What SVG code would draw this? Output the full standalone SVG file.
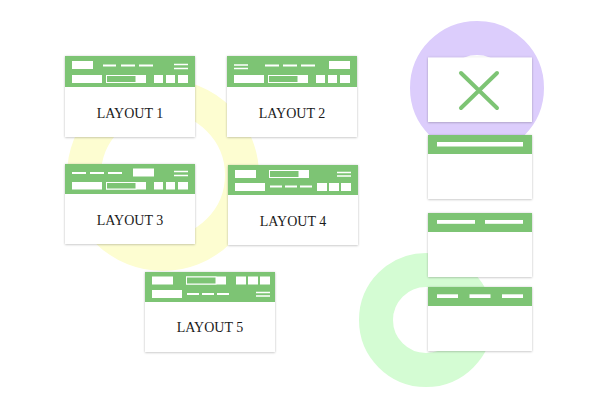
<svg xmlns="http://www.w3.org/2000/svg" width="600" height="400" viewBox="0 0 600 400">
<defs>
<filter id="sh" x="-10%" y="-10%" width="120%" height="125%">
<feDropShadow dx="0" dy="0.5" stdDeviation="1.3" flood-color="#000" flood-opacity="0.28"/>
</filter>
</defs>
<style>
.card{fill:#fff;filter:url(#sh)}
.hdr{fill:#7dc474}
.w{fill:#fff}
.inp{fill:#7dc474;stroke:#fff;stroke-width:1}
.ln{stroke:#fff;stroke-width:2}
.hb{stroke:#fff;stroke-width:1.3}
.lbl{font-family:"Liberation Serif","DejaVu Serif",serif;font-size:14px;fill:#1a1a1a;text-anchor:middle}
.ring{fill:none;stroke-width:34}
</style>
<rect width="600" height="400" fill="#fff"/>
<g id="decor">
<circle class="ring" cx="163" cy="175" r="79" stroke="#fdfdd1"/>
<circle class="ring" cx="426" cy="320" r="50" stroke="#d4fcd3"/>
<circle class="ring" cx="477" cy="88" r="50" stroke="#dccdfc"/>
</g>
<g id="layout1">
<rect class="card" x="65" y="56" width="130" height="81"/>
<rect class="hdr" x="65" y="56" width="130" height="31"/>
<rect class="w" x="72" y="61" width="21" height="8"/>
<path class="ln" d="M103 65.5h13M121 65.5h14M139 65.5h14"/>
<path class="hb" d="M174 64.5h14M174 68.5h14"/>
<rect class="w" x="72" y="75" width="30" height="8"/>
<rect class="w" x="106" y="75" width="40" height="8"/>
<rect class="inp" x="106.5" y="75.5" width="29.5" height="7"/>
<rect class="w" x="154" y="75" width="9" height="8"/>
<rect class="w" x="166" y="75" width="9" height="8"/>
<rect class="w" x="178" y="75" width="10" height="8"/>
<text class="lbl" x="130" y="117.5">LAYOUT 1</text>
</g>
<g id="layout2">
<rect class="card" x="227" y="56" width="130" height="81"/>
<rect class="hdr" x="227" y="56" width="130" height="31"/>
<path class="hb" d="M234 65h14M234 68.5h14"/>
<path class="ln" d="M265 65.5h14M283 65.5h14M301 65.5h14"/>
<rect class="w" x="329" y="61" width="21" height="8"/>
<rect class="w" x="234" y="75" width="30" height="8"/>
<rect class="w" x="268" y="75" width="40" height="8"/>
<rect class="inp" x="268.5" y="75.5" width="29.5" height="7"/>
<rect class="w" x="316" y="75" width="9" height="8"/>
<rect class="w" x="328" y="75" width="9" height="8"/>
<rect class="w" x="340" y="75" width="10" height="8"/>
<text class="lbl" x="292" y="117.5">LAYOUT 2</text>
</g>
<g id="layout3">
<rect class="card" x="65" y="164" width="130" height="80"/>
<rect class="hdr" x="65" y="164" width="130" height="30"/>
<path class="ln" d="M72 173h14M90 173h14M108 173h14"/>
<rect class="w" x="133" y="168.5" width="21" height="8"/>
<path class="hb" d="M174 171.5h14M174 175.5h14"/>
<rect class="w" x="72" y="182" width="30" height="7.5"/>
<rect class="w" x="106" y="182" width="40" height="7.5"/>
<rect class="inp" x="106.5" y="182.5" width="29.5" height="6.5"/>
<rect class="w" x="154" y="182" width="9" height="7.5"/>
<rect class="w" x="166" y="182" width="9" height="7.5"/>
<rect class="w" x="178" y="182" width="10" height="7.5"/>
<text class="lbl" x="130" y="225">LAYOUT 3</text>
</g>
<g id="layout4">
<rect class="card" x="228" y="165" width="130" height="80"/>
<rect class="hdr" x="228" y="165" width="130" height="30"/>
<rect class="w" x="235" y="170" width="21" height="8"/>
<rect class="w" x="269" y="170" width="40" height="8"/>
<rect class="inp" x="269.5" y="170.5" width="29.5" height="7"/>
<path class="hb" d="M337 172.5h14M337 176h14"/>
<rect class="w" x="235" y="183" width="30" height="8"/>
<path class="ln" d="M270 186.5h12M285 186.5h12M300 186.5h12"/>
<rect class="w" x="317" y="183" width="10" height="8"/>
<rect class="w" x="329" y="183" width="10" height="8"/>
<rect class="w" x="341" y="183" width="10" height="8"/>
<text class="lbl" x="293" y="225.5">LAYOUT 4</text>
</g>
<g id="layout5">
<rect class="card" x="145" y="272" width="130" height="80"/>
<rect class="hdr" x="145" y="272" width="130" height="30"/>
<rect class="w" x="152" y="276.5" width="21" height="8"/>
<rect class="w" x="186" y="276.5" width="40" height="8"/>
<rect class="inp" x="186.5" y="277" width="29.5" height="7"/>
<rect class="w" x="236" y="276.5" width="10" height="8"/>
<rect class="w" x="248" y="276.5" width="10" height="8"/>
<rect class="w" x="260" y="276.5" width="10" height="8"/>
<rect class="w" x="152" y="290" width="30" height="8"/>
<path class="ln" d="M187 294h12M202 294h12M217 294h12"/>
<path class="hb" d="M256 292.5h14M256 296h14"/>
<text class="lbl" x="210" y="332">LAYOUT 5</text>
</g>
<g id="closeCard">
<rect class="card" x="428" y="57.5" width="104" height="64.5"/>
<path d="M461 73L497 108M497 73L461 108" stroke="#7dc474" stroke-width="4" stroke-linecap="round"/>
</g>
<g id="cardA">
<rect class="card" x="428" y="135" width="104" height="64"/>
<rect class="hdr" x="428" y="135" width="104" height="19"/>
<rect class="w" x="437" y="142" width="86" height="4.5"/>
</g>
<g id="cardB">
<rect class="card" x="428" y="213" width="104" height="64"/>
<rect class="hdr" x="428" y="213" width="104" height="19"/>
<rect class="w" x="437" y="220" width="38" height="3.8"/>
<rect class="w" x="485" y="220" width="38" height="3.8"/>
</g>
<g id="cardC">
<rect class="card" x="428" y="287" width="104" height="64"/>
<rect class="hdr" x="428" y="287" width="104" height="19"/>
<rect class="w" x="437" y="294.3" width="21" height="3.7"/>
<rect class="w" x="469.5" y="294.3" width="21" height="3.7"/>
<rect class="w" x="502" y="294.3" width="21" height="3.7"/>
</g>
<g id="connectors"/>
</svg>
